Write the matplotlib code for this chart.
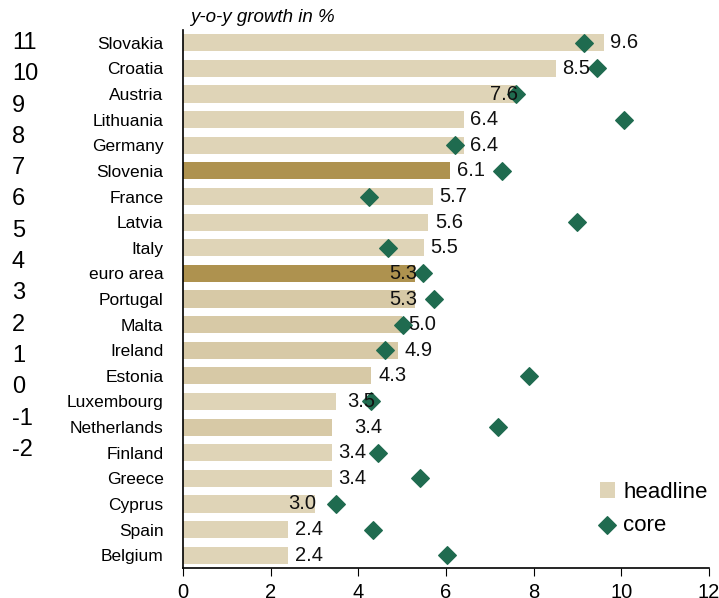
import numpy as np
import matplotlib.pyplot as plt

plt.rcParams['font.family'] = ['Liberation Sans', 'DejaVu Sans']

countries = ['Slovakia', 'Croatia', 'Austria', 'Lithuania', 'Germany', 'Slovenia',
             'France', 'Latvia', 'Italy', 'euro area', 'Portugal', 'Malta', 'Ireland',
             'Estonia', 'Luxembourg', 'Netherlands', 'Finland', 'Greece', 'Cyprus',
             'Spain', 'Belgium']
headline = [9.6, 8.5, 7.6, 6.4, 6.4, 6.1, 5.7, 5.6, 5.5, 5.3, 5.3, 5.0, 4.9,
            4.3, 3.5, 3.4, 3.4, 3.4, 3.0, 2.4, 2.4]
core = [9.15, 9.45, 7.6, 10.05, 6.2, 7.27, 4.25, 8.98, 4.68, 5.48, 5.73, 5.02,
        4.61, 7.9, 4.3, 7.18, 4.45, 5.41, 3.48, 4.34, 6.02]
# leftover scale from the source sheet
side_ticks = [11, 10, 9, 8, 7, 6, 5, 4, 3, 2, 1, 0, -1, -2]

light = '#dfd4b7'
mid = '#d7c9a6'
dark = '#ae924f'
green = '#1f6b4f'

colors = []
for c in countries:
    if c in ('Slovenia', 'euro area'):
        colors.append(dark)
    elif c in ('Portugal', 'Malta', 'Ireland', 'Estonia', 'Netherlands'):
        colors.append(mid)
    else:
        colors.append(light)

# labels that sit inside the bar end instead of after it
inside = {'Austria', 'euro area', 'Portugal', 'Cyprus'}
nudge = {'Netherlands': 0.35, 'Luxembourg': 0.1}

fig = plt.figure(figsize=(7.19, 5.98), dpi=100)
ax = fig.add_axes([183 / 719, 30 / 598, 526 / 719, 538 / 598])

y = np.arange(len(countries))[::-1]
bars = ax.barh(y, headline, height=0.67, color=colors, label='headline')
pts = ax.scatter(core, y, marker='D', s=80, color=green, zorder=3, label='core')

for yi, c, v in zip(y, countries, headline):
    if c in inside:
        ax.text(v + 0.05, yi, f'{v:.1f}', ha='right', va='center', fontsize=14.5, color='#111111', zorder=4)
    else:
        ax.text(v + 0.15 + nudge.get(c, 0), yi, f'{v:.1f}', ha='left', va='center', fontsize=14.5,
                color='#111111', zorder=4)

ax.set_xlim(0, 12)
ax.set_ylim(-0.5, len(countries) - 0.5)
ax.set_xticks(range(0, 13, 2))
ax.set_yticks(y)
ax.set_yticklabels(countries, fontsize=12.5)
ax.tick_params(axis='y', length=0, pad=14)
ax.tick_params(axis='x', length=6, direction='out', labelsize=14.5, pad=5)
for s in ('top', 'right'):
    ax.spines[s].set_visible(False)
ax.spines['left'].set_linewidth(1.2)
ax.spines['bottom'].set_linewidth(1.2)

ax.text(0.013, 1.008, 'y-o-y growth in %', transform=ax.transAxes, fontsize=13.5,
        style='italic', ha='left', va='bottom')

for i, t in enumerate(side_ticks):
    fig.text(12 / 719, 1 - (43 + i * 31.3) / 598, str(t), fontsize=17, ha='left', va='center')

handles = [bars[0], pts]
ax.legend(handles, ['headline', 'core'], loc='lower right', bbox_to_anchor=(1.035, 0.022),
          frameon=False, fontsize=16, handlelength=0.7, handletextpad=0.35, labelspacing=0.55)

fig.savefig('out.png', dpi=100)
